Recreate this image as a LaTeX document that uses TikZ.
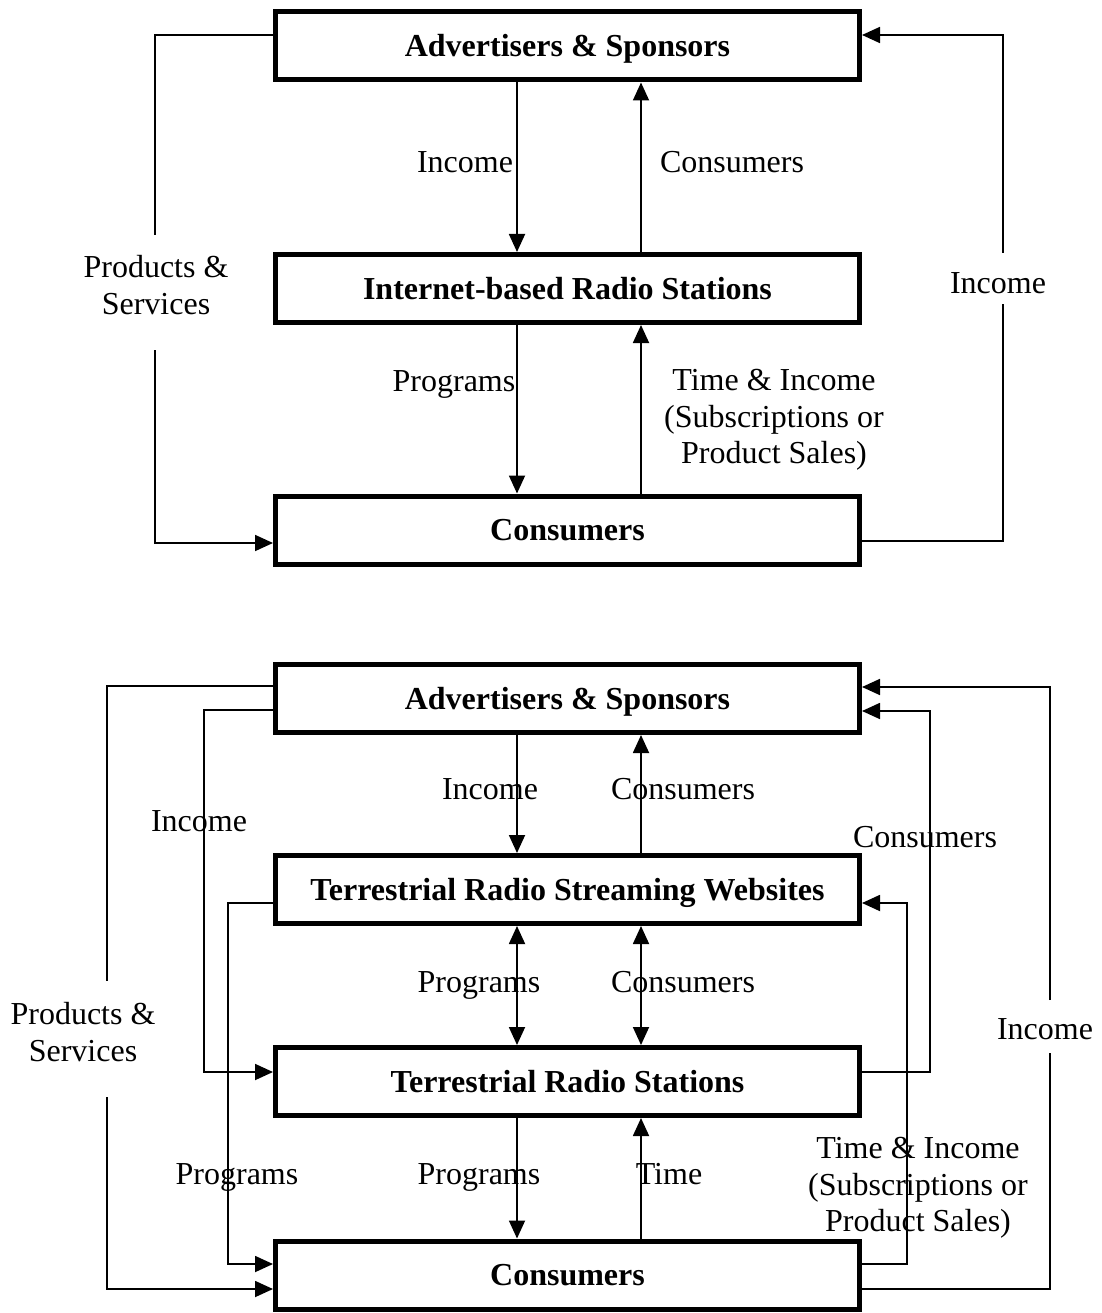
\documentclass[tikz,border=0pt]{standalone}
\usepackage{fontspec}
\setmainfont{Liberation Serif}
\usetikzlibrary{arrows.meta}
\begin{document}
\begin{tikzpicture}[x=1pt,y=-1pt,
  box/.style={draw,line width=5pt,minimum width=584pt,minimum height=68pt,inner sep=0pt,text height=25pt,text depth=4pt,font=\fontsize{32}{36.5}\selectfont\bfseries},
  ln/.style={line width=1.8pt},
  arr/.style={line width=1.8pt,-{Triangle[length=18pt,width=16pt]}},
  darr/.style={line width=1.8pt,{Triangle[length=18pt,width=16pt]}-{Triangle[length=18pt,width=16pt]}},
  lab/.style={font=\fontsize{32}{36.5}\selectfont,inner sep=0pt},
  mlab/.style={font=\fontsize{32}{36.5}\selectfont,inner sep=0pt,align=center}]
\useasboundingbox (0,0) rectangle (1101,1313);
\coordinate (xa) at (517,0);
\coordinate (xb) at (641,0);

% ---------- top diagram ----------
\node[box] (adv1) at (567.5,46) {Advertisers \& Sponsors};
\node[box] (irs) at (567.5,288.5) {Internet-based Radio Stations};
\node[box] (con1) at (567.5,530) {Consumers};

\draw[arr] (adv1.south -| xa) -- (irs.north -| xa);
\draw[arr] (irs.north -| xb) -- (adv1.south -| xb);
\draw[arr] (irs.south -| xa) -- (con1.north -| xa);
\draw[arr] (con1.north -| xb) -- (irs.south -| xb);

\coordinate (psT1) at (155,235);
\coordinate (psT2) at (155,350);
\draw[ln] (adv1.west |- 0,35) -| (psT1);
\draw[arr] (psT2) |- (con1.west |- 0,543);

\coordinate (inT1) at (1003,304);
\coordinate (inT2) at (1003,253);
\draw[ln] (con1.east |- 0,541) -| (inT1);
\draw[arr] (inT2) |- (adv1.east |- 0,35);

\node[lab,anchor=base] (l1) at (465,173) {Income};
\node[lab,anchor=base] (l2) at (732,173) {Consumers};
\node[mlab] (l3) at (156,285) {Products \&\\Services};
\node[lab,anchor=base] (l4) at (998,294) {Income};
\node[lab,anchor=base] (l5) at (454,391) {Programs};
\node[mlab] (l6) at (774,420) {Time \& Income\\(Subscriptions or\\Product Sales)};

% ---------- bottom diagram ----------
\node[box] (advB) at (567.5,698.5) {Advertisers \& Sponsors};
\node[box] (strw) at (567.5,889.5) {Terrestrial Radio Streaming Websites};
\node[box] (trs) at (567.5,1081.5) {Terrestrial Radio Stations};
\node[box] (conB) at (567.5,1275) {Consumers};

\draw[arr] (advB.south -| xa) -- (strw.north -| xa);
\draw[arr] (strw.north -| xb) -- (advB.south -| xb);
\draw[darr] (strw.south -| xa) -- (trs.north -| xa);
\draw[darr] (strw.south -| xb) -- (trs.north -| xb);
\draw[arr] (trs.south -| xa) -- (conB.north -| xa);
\draw[arr] (conB.north -| xb) -- (trs.south -| xb);

% left side
\coordinate (psB1) at (107,981);
\coordinate (psB2) at (107,1097);
\draw[ln] (advB.west |- 0,686) -| (psB1);
\draw[arr] (psB2) |- (conB.west |- 0,1289);
\draw[arr] (advB.west |- 0,710) -| (204,900) |- (trs.west |- 0,1072);
\draw[arr] (strw.west |- 0,903) -| (228,1000) |- (conB.west |- 0,1264);

% right side
\coordinate (inB1) at (1050,1053);
\coordinate (inB2) at (1050,1000);
\draw[ln] (conB.east |- 0,1289) -| (inB1);
\draw[arr] (inB2) |- (advB.east |- 0,687);
\draw[arr] (trs.east |- 0,1072) -| (930,900) |- (advB.east |- 0,711);
\draw[arr] (conB.east |- 0,1264) -| (907,1000) |- (strw.east |- 0,903);

\node[lab,anchor=base] (m1) at (490,799) {Income};
\node[lab,anchor=base] (m2) at (683,799) {Consumers};
\node[lab,anchor=base] (m3) at (199,831) {Income};
\node[lab,anchor=base] (m4) at (925,847) {Consumers};
\node[lab,anchor=base] (m5) at (479,992) {Programs};
\node[lab,anchor=base] (m6) at (683,992) {Consumers};
\node[mlab] (m7) at (83,1032) {Products \&\\Services};
\node[lab,anchor=base] (m8) at (1045,1039) {Income};
\node[lab,anchor=base] (m9) at (237,1184) {Programs};
\node[lab,anchor=base] (m10) at (479,1184) {Programs};
\node[lab,anchor=base] (m11) at (669,1184) {Time};
\node[mlab] (m12) at (918,1188) {Time \& Income\\(Subscriptions or\\Product Sales)};
\end{tikzpicture}
\end{document}
